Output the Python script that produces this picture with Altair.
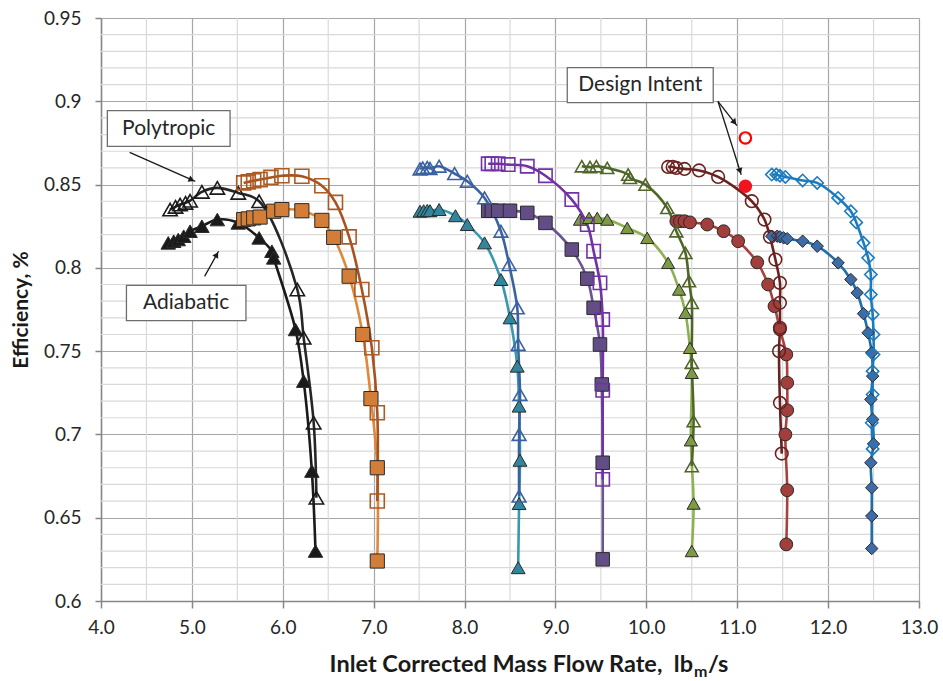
import math
import altair as alt
import pandas as pd

FONT = "Lato"

# ---------------- data ----------------
ba_x = [4.74, 4.80, 4.85, 4.91, 4.98, 5.11, 5.28, 5.51, 5.74, 5.88, 5.90, 6.14, 6.23, 6.32, 6.36]
ba_y = [0.815, 0.816, 0.817, 0.819, 0.822, 0.825, 0.829, 0.827, 0.818, 0.810, 0.806, 0.763, 0.732, 0.678, 0.630]
bp_x = [4.76, 4.82, 4.87, 4.93, 4.98, 5.11, 5.28, 5.51, 5.74, 6.16, 6.23, 6.34, 6.37]
bp_y = [0.835, 0.8366, 0.838, 0.839, 0.8403, 0.8456, 0.848, 0.845, 0.840, 0.787, 0.758, 0.707, 0.662]

oa_x = [5.57, 5.62, 5.68, 5.75, 5.90, 5.99, 6.21, 6.43, 6.56, 6.73, 6.88, 6.97, 7.04, 7.04]
oa_y = [0.829, 0.8294, 0.830, 0.8305, 0.834, 0.835, 0.8343, 0.8285, 0.8183, 0.795, 0.760, 0.7215, 0.680, 0.624]
op_x = [5.57, 5.62, 5.68, 5.75, 5.87, 5.99, 6.21, 6.43, 6.58, 6.73, 6.87, 6.98, 7.04, 7.04]
op_y = [0.851, 0.8516, 0.8523, 0.853, 0.8543, 0.8553, 0.855, 0.8493, 0.8393, 0.8186, 0.787, 0.752, 0.713, 0.660]

ta_x = [7.51, 7.55, 7.59, 7.62, 7.72, 7.90, 8.03, 8.22, 8.40, 8.50, 8.58, 8.60, 8.61, 8.60, 8.59]
ta_y = [0.834, 0.8343, 0.8345, 0.8343, 0.835, 0.8313, 0.826, 0.815, 0.793, 0.770, 0.741, 0.717, 0.6845, 0.6585, 0.620]
tp_x = [7.51, 7.54, 7.59, 7.62, 7.72, 7.89, 8.03, 8.22, 8.40, 8.49, 8.58, 8.59, 8.61, 8.60, 8.60]
tp_y = [0.8594, 0.860, 0.8603, 0.8597, 0.861, 0.8566, 0.852, 0.842, 0.822, 0.802, 0.776, 0.754, 0.724, 0.700, 0.663]

pa_x = [8.26, 8.30, 8.37, 8.50, 8.69, 8.89, 9.18, 9.35, 9.42, 9.49, 9.51, 9.52, 9.52]
pa_y = [0.8343, 0.8343, 0.8343, 0.8343, 0.833, 0.827, 0.811, 0.7935, 0.776, 0.754, 0.730, 0.683, 0.625]
pp_x = [8.26, 8.30, 8.37, 8.48, 8.69, 8.89, 9.18, 9.35, 9.42, 9.49, 9.52, 9.52, 9.52]
pp_y = [0.8625, 0.8625, 0.8625, 0.862, 0.861, 0.8553, 0.841, 0.826, 0.810, 0.791, 0.769, 0.7265, 0.673]

ga_x = [9.27, 9.37, 9.46, 9.57, 9.79, 10.01, 10.24, 10.36, 10.43, 10.48, 10.50, 10.49, 10.52, 10.50]
ga_y = [0.829, 0.830, 0.830, 0.829, 0.824, 0.818, 0.803, 0.787, 0.773, 0.752, 0.737, 0.6965, 0.6585, 0.630]
gp_x = [9.29, 9.38, 9.45, 9.57, 9.80, 9.82, 9.99, 10.23, 10.33, 10.43, 10.47, 10.50, 10.50, 10.52, 10.50]
gp_y = [0.861, 0.8605, 0.861, 0.860, 0.856, 0.854, 0.850, 0.836, 0.822, 0.809, 0.792, 0.779, 0.743, 0.708, 0.681]

ma_x = [10.33, 10.37, 10.42, 10.48, 10.67, 10.85, 11.01, 11.22, 11.34, 11.41, 11.47, 11.54, 11.55, 11.55, 11.53, 11.55, 11.54]
ma_y = [0.828, 0.828, 0.828, 0.8273, 0.826, 0.822, 0.816, 0.8033, 0.790, 0.777, 0.763, 0.748, 0.731, 0.7145, 0.700, 0.6665, 0.634]
mp_x = [10.24, 10.29, 10.33, 10.42, 10.58, 10.79, 11.16, 11.30, 11.36, 11.42, 11.47, 11.47, 11.47, 11.46, 11.47, 11.49]
mp_y = [0.8606, 0.8606, 0.860, 0.8594, 0.8585, 0.8546, 0.840, 0.829, 0.8186, 0.805, 0.791, 0.779, 0.764, 0.750, 0.719, 0.6885]

da_x = [11.38, 11.44, 11.47, 11.51, 11.55, 11.72, 11.88, 12.11, 12.25, 12.32, 12.39, 12.44, 12.48, 12.49, 12.47, 12.49, 12.50, 12.47, 12.48, 12.48, 12.48]
da_y = [0.819, 0.819, 0.8186, 0.818, 0.8175, 0.816, 0.813, 0.803, 0.793, 0.785, 0.7725, 0.761, 0.749, 0.735, 0.721, 0.709, 0.6943, 0.683, 0.668, 0.651, 0.6315]
dp_x = [11.38, 11.43, 11.47, 11.53, 11.72, 11.88, 12.11, 12.25, 12.31, 12.39, 12.44, 12.47, 12.47, 12.49, 12.50, 12.50, 12.49, 12.49, 12.48, 12.49]
dp_y = [0.856, 0.856, 0.8553, 0.8546, 0.8525, 0.851, 0.842, 0.834, 0.8273, 0.815, 0.806, 0.796, 0.784, 0.772, 0.760, 0.748, 0.738, 0.724, 0.707, 0.6913]

design_x = [11.09, 11.09]
design_y = [0.878, 0.849]
design_kind = ["polytropic", "adiabatic"]

# axis ticks (labelled) and minor grid positions
x_major = [4.0, 5.0, 6.0, 7.0, 8.0, 9.0, 10.0, 11.0, 12.0, 13.0]
x_minor = [4.5, 5.5, 6.5, 7.5, 8.5, 9.5, 10.5, 11.5, 12.5]
y_major = [0.6, 0.65, 0.7, 0.75, 0.8, 0.85, 0.9, 0.95]
y_minor = [0.61, 0.62, 0.63, 0.64, 0.66, 0.67, 0.68, 0.69, 0.71, 0.72, 0.73, 0.74,
           0.76, 0.77, 0.78, 0.79, 0.81, 0.82, 0.83, 0.84, 0.86, 0.87, 0.88, 0.89,
           0.91, 0.92, 0.93, 0.94]

# annotation boxes: label, x-left, x-right, y-bottom, y-top (data units)
box_text = ["Polytropic", "Adiabatic", "Design Intent"]
box_x1 = [4.07, 4.28, 9.13]
box_x2 = [5.42, 5.595, 10.736]
box_y1 = [0.8729, 0.7683, 0.8992]
box_y2 = [0.8944, 0.7895, 0.9202]
# arrows: start -> end (data units)
arr_x1 = [4.315, 5.14, 10.788, 10.788]
arr_y1 = [0.8693, 0.7949, 0.900, 0.900]
arr_x2 = [5.037, 5.294, 10.997, 11.044]
arr_y2 = [0.8519, 0.810, 0.8854, 0.8559]

# ---------------- build tables ----------------
series_defs = [
    ("S1 adiabatic", "adiabatic", ba_x, ba_y),
    ("S1 polytropic", "polytropic", bp_x, bp_y),
    ("S2 adiabatic", "adiabatic", oa_x, oa_y),
    ("S2 polytropic", "polytropic", op_x, op_y),
    ("S3 adiabatic", "adiabatic", ta_x, ta_y),
    ("S3 polytropic", "polytropic", tp_x, tp_y),
    ("S4 adiabatic", "adiabatic", pa_x, pa_y),
    ("S4 polytropic", "polytropic", pp_x, pp_y),
    ("S5 adiabatic", "adiabatic", ga_x, ga_y),
    ("S5 polytropic", "polytropic", gp_x, gp_y),
    ("S6 adiabatic", "adiabatic", ma_x, ma_y),
    ("S6 polytropic", "polytropic", mp_x, mp_y),
    ("S7 adiabatic", "adiabatic", da_x, da_y),
    ("S7 polytropic", "polytropic", dp_x, dp_y),
]
names = [s[0] for s in series_defs]
line_colors = ["#1A1A1A", "#262626", "#E0883A", "#A8531F", "#3898AE", "#3A62A2",
               "#6A5590", "#7232A6", "#8DB152", "#4F6628", "#A8413E", "#6A2220",
               "#1E6EAC", "#1B7BBF"]
mark_colors = ["#1A1A1A", "#1A1A1A", "#D27E38", "#AE5A24", "#31859C", "#3A62A2",
               "#624D86", "#7232A6", "#7E9B44", "#4F6628", "#A23E3B", "#6A2220",
               "#3D6CA8", "#1B7BBF"]
shapes = ["triangle-up", "triangle-up", "square", "square", "triangle-up", "triangle-up",
          "square", "square", "triangle-up", "triangle-up", "circle", "circle",
          "diamond", "diamond"]
sizes = [210, 150, 190, 140, 210, 150, 190, 140, 210, 150, 200, 170, 195, 160]

rows = []
for name, kind, xs, ys in series_defs:
    for i, (xv, yv) in enumerate(zip(xs, ys)):
        rows.append({"series": name, "kind": kind, "x": xv, "y": yv, "order": i})
df = pd.DataFrame(rows)

W, H = 818, 583
X0, X1, Y0, Y1 = 4.0, 13.0, 0.60, 0.95
kx = W / (X1 - X0)
ky = H / (Y1 - Y0)

ang, hx, hy = [], [], []
for a, b, c, d in zip(arr_x1, arr_y1, arr_x2, arr_y2):
    dxp, dyp = (c - a) * kx, (d - b) * ky
    L = math.hypot(dxp, dyp)
    ang.append(math.degrees(math.atan2(dxp, dyp)) % 360)
    hx.append(c - dxp / L * 4 / kx)
    hy.append(d - dyp / L * 4 / ky)
arrows = pd.DataFrame({"x": arr_x1, "y": arr_y1, "x2": arr_x2, "y2": arr_y2,
                       "hx": hx, "hy": hy, "angle": ang})
boxes = pd.DataFrame({"text": box_text, "x1": box_x1, "x2": box_x2, "y1": box_y1, "y2": box_y2})
boxes["tx"] = (boxes["x1"] + boxes["x2"]) / 2
boxes["ty"] = (boxes["y1"] + boxes["y2"]) / 2
design = pd.DataFrame({"x": design_x, "y": design_y, "kind": design_kind})

# ---------------- scales & axes ----------------
xscale = alt.Scale(domain=[X0, X1], nice=False, zero=False)
yscale = alt.Scale(domain=[Y0, Y1], nice=False, zero=False)

GRID_MAJOR = "#A6A6A6"
GRID_MINOR = "#D9D9D9"
AXIS_COL = "#868686"

xaxis = alt.Axis(
    values=x_major, format=".1f",
    grid=True, gridColor=GRID_MAJOR, gridWidth=1.2,
    tickSize=7, tickColor=AXIS_COL, tickWidth=1.5,
    domainColor=AXIS_COL, domainWidth=1.5,
    labelFont=FONT, labelFontSize=19, labelColor="#262626", labelPadding=10,
    labelFlush=False, labelOverlap=False,
    title=None,
)
yaxis = alt.Axis(
    values=y_major, format=".2~f",
    grid=True, gridColor=GRID_MAJOR, gridWidth=1.2,
    tickSize=6, tickColor=AXIS_COL, tickWidth=1.5,
    domainColor=AXIS_COL, domainWidth=1.5,
    labelFont=FONT, labelFontSize=19, labelColor="#262626", labelPadding=14,
    labelFlush=False, labelOverlap=False,
    title="Efficiency, %", titleFont=FONT, titleFontSize=21, titleFontWeight="bold",
    titleColor="#1A1A1A", titlePadding=12,
)

Xn = alt.X("x:Q", scale=xscale)
Yn = alt.Y("y:Q", scale=yscale)

# minor grid (drawn first, under everything)
minor_x = alt.Chart(pd.DataFrame({"x": x_minor})).mark_rule(color=GRID_MINOR, strokeWidth=1.2).encode(
    x=alt.X("x:Q", scale=xscale, axis=xaxis)
)
minor_y = alt.Chart(pd.DataFrame({"y": y_minor})).mark_rule(color=GRID_MINOR, strokeWidth=1.2).encode(
    y=alt.Y("y:Q", scale=yscale, axis=yaxis)
)

shape_enc = alt.Shape("series:N", scale=alt.Scale(domain=names, range=shapes), legend=None)
size_enc = alt.Size("series:O", scale=alt.Scale(domain=names, range=sizes), legend=None)

base = alt.Chart(df)

lines = base.mark_line(interpolate="catmull-rom", strokeWidth=2.6).encode(
    x=Xn, y=Yn,
    color=alt.Color("series:N", scale=alt.Scale(domain=names, range=line_colors), legend=None),
    order=alt.Order("order:Q"),
)

filled_pts = base.transform_filter(alt.datum.kind == "adiabatic").mark_point(
    filled=True, stroke="#2A2A2A", strokeWidth=1, opacity=1
).encode(
    x=Xn, y=Yn,
    fill=alt.Fill("series:N", scale=alt.Scale(domain=names, range=mark_colors), legend=None),
    shape=shape_enc, size=size_enc,
)

open_pts = base.transform_filter(alt.datum.kind == "polytropic").mark_point(
    filled=False, strokeWidth=1.6, opacity=1
).encode(
    x=Xn, y=Yn,
    stroke=alt.Stroke("series:N", scale=alt.Scale(domain=names, range=mark_colors), legend=None),
    shape=shape_enc, size=size_enc,
)

design_open = alt.Chart(design).transform_filter(alt.datum.kind == "polytropic").mark_point(
    shape="circle", filled=False, stroke="#FF0000", strokeWidth=2.2, size=130, opacity=1
).encode(x=Xn, y=Yn)
design_fill = alt.Chart(design).transform_filter(alt.datum.kind == "adiabatic").mark_point(
    shape="circle", filled=True, fill="#F0141E", size=180, opacity=1
).encode(x=Xn, y=Yn)

arrow_lines = alt.Chart(arrows).mark_rule(color="#1A1A1A", strokeWidth=1.3).encode(
    x=Xn, y=Yn, x2="x2:Q", y2="y2:Q"
)
arrow_heads = alt.Chart(arrows).mark_point(
    shape="triangle-up", filled=True, fill="#1A1A1A", size=45, opacity=1
).encode(
    x=alt.X("hx:Q", scale=xscale), y=alt.Y("hy:Q", scale=yscale),
    angle=alt.Angle("angle:Q", scale=None),
)

box_rects = alt.Chart(boxes).mark_rect(fill="white", stroke="#6E6E6E", strokeWidth=1.3).encode(
    x=alt.X("x1:Q", scale=xscale), x2="x2:Q",
    y=alt.Y("y1:Q", scale=yscale), y2="y2:Q",
)
box_labels = alt.Chart(boxes).mark_text(
    font=FONT, fontSize=21, color="#262626", align="center", baseline="middle"
).encode(
    x=alt.X("tx:Q", scale=xscale), y=alt.Y("ty:Q", scale=yscale), text="text:N"
)

one = alt.Data(values=[{}])
title_main = alt.Chart(one).mark_text(
    font=FONT, fontSize=23.5, fontWeight="bold", color="#1A1A1A", align="right", baseline="alphabetic"
).encode(x=alt.value(592), y=alt.value(654), text=alt.value("Inlet Corrected Mass Flow Rate,\u00a0\u00a0lb"))
title_sub = alt.Chart(one).mark_text(
    font=FONT, fontSize=16, fontWeight="bold", color="#1A1A1A", align="left", baseline="alphabetic"
).encode(x=alt.value(593), y=alt.value(659), text=alt.value("m"))
title_end = alt.Chart(one).mark_text(
    font=FONT, fontSize=23.5, fontWeight="bold", color="#1A1A1A", align="left", baseline="alphabetic"
).encode(x=alt.value(607), y=alt.value(654), text=alt.value("/s"))

chart = alt.layer(
    minor_x, minor_y,
    lines, filled_pts, open_pts, design_open, design_fill,
    arrow_lines, arrow_heads, box_rects, box_labels,
    title_main, title_sub, title_end,
).properties(
    width=W, height=H,
    padding={"left": 101, "top": 18, "right": 24, "bottom": 80},
    autosize=alt.AutoSizeParams(type="none"),
    background="white",
).configure_view(stroke=None)

chart.save("out.html", embed_options={"renderer": "svg", "actions": False})
